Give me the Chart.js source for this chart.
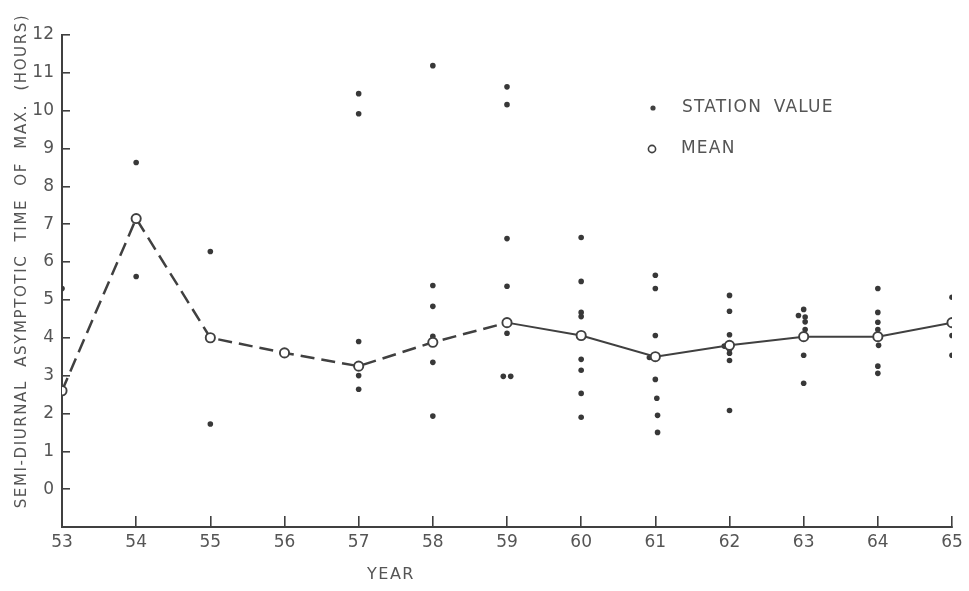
<!DOCTYPE html>
<html>
<head>
<meta charset="utf-8">
<script src="https://cdn.jsdelivr.net/npm/chart.js@4"></script>
<style>
  html, body { margin: 0; padding: 0; background: #fff; }
  #wrap { width: 969px; height: 591px; }
</style>
</head>
<body>
<div id="wrap"><canvas id="tmaxChart"></canvas></div>
<script>
// yearly means (hours)
const years = [53, 54, 55, 56, 57, 58, 59, 60, 61, 62, 63, 64, 65];
const meanValues = [2.6, 7.15, 4.0, 3.6, 3.25, 3.88, 4.4, 4.06, 3.5, 3.8, 4.03, 4.03, 4.4];

// individual stations, year and value in parallel
const stationYears = [
    53,
    54, 54,
    55, 55,
    57, 57, 57, 57, 57,
    58, 58, 58, 58, 58, 58,
    59, 59, 59, 59, 59, 58.95, 59.05,
    60, 60, 60, 60, 60, 60, 60, 60,
    61, 61, 61, 60.92, 61, 61.02, 61.03, 61.03,
    62, 62, 62, 61.93, 62, 62, 62, 62,
    63, 62.93, 63.02, 63.02, 63.02, 63, 63,
    64, 64, 64, 64, 64.01, 64, 64,
    65, 65, 65
];
const stationValues = [
    5.3,
    8.63, 5.62,
    6.28, 1.72,
    10.45, 9.92, 3.9, 3.0, 2.64,
    11.19, 5.38, 4.83, 4.04, 3.35, 1.93,
    10.63, 10.16, 6.62, 5.36, 4.12, 2.98, 2.98,
    6.65, 5.49, 4.67, 4.56, 3.43, 3.14, 2.53, 1.9,
    5.65, 5.3, 4.06, 3.48, 2.9, 2.4, 1.95, 1.5,
    5.12, 4.7, 4.08, 3.78, 3.69, 3.59, 3.4, 2.08,
    4.75, 4.59, 4.55, 4.42, 4.22, 3.54, 2.8,
    5.3, 4.67, 4.41, 4.22, 3.8, 3.25, 3.06,
    5.07, 4.06, 3.54
];

const yTicksMin = -1, yTicksMax = 12;
const dashedUntil = 59;   // mean line is dashed up to this year

const ink = '#404040';
const textInk = '#555';
const fontFamily = '"DejaVu Sans", sans-serif';

// hand-placed titles and key
const labelsPlugin = {
    id: 'labels',
    afterDraw(chart) {
        const ctx = chart.ctx;
        ctx.save();
        ctx.fillStyle = textInk;
        ctx.textBaseline = 'middle';

        // y title, rotated
        ctx.save();
        ctx.translate(22, 261);
        ctx.rotate(-Math.PI / 2);
        ctx.textAlign = 'center';
        ctx.font = '15px ' + fontFamily;
        ctx.letterSpacing = '1.6px';
        ctx.wordSpacing = '7px';
        ctx.fillText('SEMI-DIURNAL ASYMPTOTIC TIME OF MAX. (HOURS)', 0, 0);
        ctx.restore();

        // x title
        ctx.textAlign = 'center';
        ctx.font = '16px ' + fontFamily;
        ctx.letterSpacing = '1.5px';
        ctx.fillText('YEAR', 391, 575);

        // key
        ctx.textAlign = 'left';
        ctx.font = '17px ' + fontFamily;
        ctx.letterSpacing = '1.2px';
        ctx.wordSpacing = '5px';
        ctx.fillText('STATION VALUE', 682, 108);
        ctx.fillText('MEAN', 681, 149);

        ctx.beginPath();
        ctx.arc(653, 108, 2.6, 0, Math.PI * 2);
        ctx.fillStyle = ink;
        ctx.fill();
        ctx.beginPath();
        ctx.arc(652, 149, 3.6, 0, Math.PI * 2);
        ctx.fillStyle = '#fff';
        ctx.fill();
        ctx.lineWidth = 1.6;
        ctx.strokeStyle = ink;
        ctx.stroke();
        ctx.restore();
    }
};

new Chart(document.getElementById('tmaxChart'), {
    type: 'scatter',
    data: {
        datasets: [
            {
                type: 'line',
                label: 'MEAN',
                data: years.map((y, i) => ({ x: y, y: meanValues[i] })),
                borderColor: ink,
                borderWidth: 2.2,
                pointStyle: 'circle',
                pointRadius: 4.6,
                pointBackgroundColor: '#fff',
                pointBorderColor: ink,
                pointBorderWidth: 1.9,
                tension: 0,
                segment: {
                    borderDash: c => (years[c.p1DataIndex] <= dashedUntil ? [14, 7] : []),
                    borderWidth: c => (years[c.p1DataIndex] <= dashedUntil ? 2.5 : 2)
                }
            },
            {
                label: 'STATION VALUE',
                data: stationYears.map((y, i) => ({ x: y, y: stationValues[i] })),
                pointRadius: 2.8,
                pointBackgroundColor: '#383838',
                pointBorderWidth: 0
            }
        ]
    },
    options: {
        responsive: true,
        maintainAspectRatio: false,
        animation: false,
        layout: { padding: { top: 35, right: 17, left: 0, bottom: 0 } },
        plugins: {
            legend: { display: false },
            tooltip: { enabled: false }
        },
        scales: {
            x: {
                type: 'linear',
                min: years[0],
                max: years[years.length - 1],
                afterFit: s => {
                    s.height = 64;
                    s.paddingLeft = 0;
                    s.paddingRight = 0;
                },
                border: { color: ink, width: 2 },
                grid: { drawOnChartArea: false, tickLength: -11, color: ink, lineWidth: 1.6 },
                ticks: {
                    stepSize: 1,
                    padding: 16,
                    color: textInk,
                    font: { family: fontFamily, size: 17 }
                }
            },
            y: {
                min: yTicksMin,
                max: yTicksMax,
                afterFit: s => { s.width = 62; },
                border: { color: ink, width: 2 },
                grid: { drawOnChartArea: false, tickLength: -8, color: ink, lineWidth: 1.6 },
                ticks: {
                    stepSize: 1,
                    padding: 16,
                    color: textInk,
                    font: { family: fontFamily, size: 17 },
                    callback: v => (v === yTicksMin ? '' : v)
                }
            }
        }
    },
    plugins: [labelsPlugin]
});
</script>
</body>
</html>
